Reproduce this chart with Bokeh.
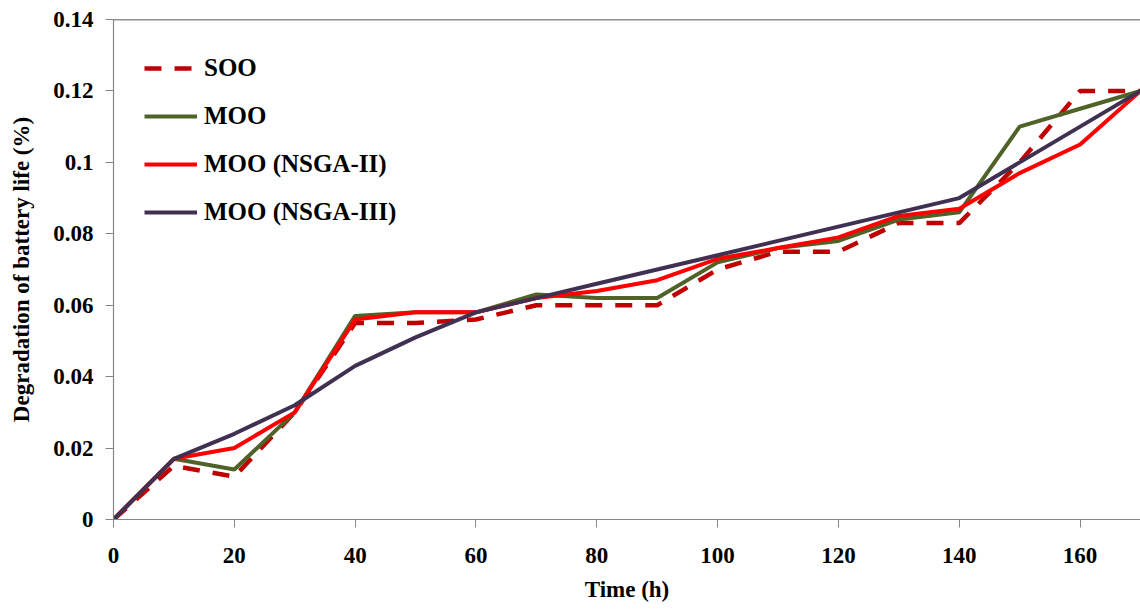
from bokeh.plotting import figure
from bokeh.models import Legend, LegendItem, Span, Range1d, FixedTicker, Title
from bokeh.embed import file_html
from bokeh.resources import INLINE

# ---- data ----
time_h = [0, 10, 20, 30, 40, 50, 60, 70, 80, 90, 100, 110, 120, 130, 140, 150, 160, 170]
soo = [0, 0.015, 0.012, 0.030, 0.055, 0.055, 0.056, 0.060, 0.060, 0.060, 0.070, 0.075, 0.075, 0.083, 0.083, 0.100, 0.120, 0.120]
moo = [0, 0.017, 0.014, 0.030, 0.057, 0.058, 0.058, 0.063, 0.062, 0.062, 0.072, 0.076, 0.078, 0.084, 0.086, 0.110, 0.115, 0.120]
moo_nsga2 = [0, 0.017, 0.020, 0.030, 0.056, 0.058, 0.058, 0.062, 0.064, 0.067, 0.073, 0.076, 0.079, 0.085, 0.087, 0.097, 0.105, 0.120]
moo_nsga3 = [0, 0.017, 0.024, 0.032, 0.043, 0.051, 0.058, 0.062, 0.066, 0.070, 0.074, 0.078, 0.082, 0.086, 0.090, 0.100, 0.110, 0.120]

series_names = ["SOO", "MOO", "MOO (NSGA-II)", "MOO (NSGA-III)"]
x_ticks = [0, 20, 40, 60, 80, 100, 120, 140, 160]
y_ticks = [0, 0.02, 0.04, 0.06, 0.08, 0.10, 0.12, 0.14]
y_tick_labels = ["0", "0.02", "0.04", "0.06", "0.08", "0.1", "0.12", "0.14"]

FONT = "Liberation Serif"
AXIS_GREY = "#868686"

p = figure(width=1140, height=614, output_backend="svg", toolbar_location=None,
           x_range=Range1d(0, 170), y_range=Range1d(0, 0.14),
           min_border_left=113, min_border_right=0, min_border_top=19, min_border_bottom=95)
p.grid.visible = False
p.outline_line_color = None
p.background_fill_color = "white"
p.border_fill_color = "white"

# top frame line
p.add_layout(Span(location=0.14, dimension="width", line_color="#222222", line_width=1.5))

colors = ["#C00000", "#4F6228", "#FF0000", "#403152"]
series = [soo, moo, moo_nsga2, moo_nsga3]
items = []
for name, ys, c in zip(series_names, series, colors):
    if name == "SOO":
        r = p.line(time_h, ys, line_color=c, line_width=4.5, line_dash="17 13")
    else:
        r = p.line(time_h, ys, line_color=c, line_width=4)
    items.append(LegendItem(label=name, renderers=[r]))

legend = Legend(items=items, location=(31, 293), padding=0, margin=0,
                glyph_width=53, glyph_height=26, label_height=26, spacing=20,
                label_standoff=7, border_line_color=None, background_fill_alpha=0,
                label_text_font=FONT, label_text_font_style="bold",
                label_text_font_size="25px", label_text_color="black")
p.add_layout(legend)

# axes styling
for ax in (p.xaxis[0], p.yaxis[0]):
    ax.axis_line_color = AXIS_GREY
    ax.axis_line_width = 1.2
    ax.major_tick_line_color = AXIS_GREY
    ax.major_tick_out = 8
    ax.major_tick_in = 0
    ax.minor_tick_line_color = None
    ax.major_label_text_font = FONT
    ax.major_label_text_font_style = "bold"
    ax.major_label_text_font_size = "23px"
    ax.major_label_text_color = "black"
    ax.axis_label_text_font = FONT
    ax.axis_label_text_font_style = "bold"
    ax.axis_label_text_font_size = "23px"
    ax.axis_label_text_color = "black"

p.xaxis.ticker = FixedTicker(ticks=x_ticks)
p.xaxis.major_label_standoff = 20
p.yaxis.ticker = FixedTicker(ticks=y_ticks)
p.yaxis.major_label_overrides = {t: l for t, l in zip(y_ticks, y_tick_labels)}
p.yaxis.major_label_standoff = 12
p.yaxis.axis_label = "Degradation of battery life (%)"
p.yaxis.axis_label_standoff = 16

xt = Title(text="Time (h)", align="center", offset=32, standoff=18,
           text_font=FONT, text_font_style="bold", text_font_size="23px", text_color="black")
p.add_layout(xt, "below")

open("out.html", "w").write(file_html(p, INLINE))
